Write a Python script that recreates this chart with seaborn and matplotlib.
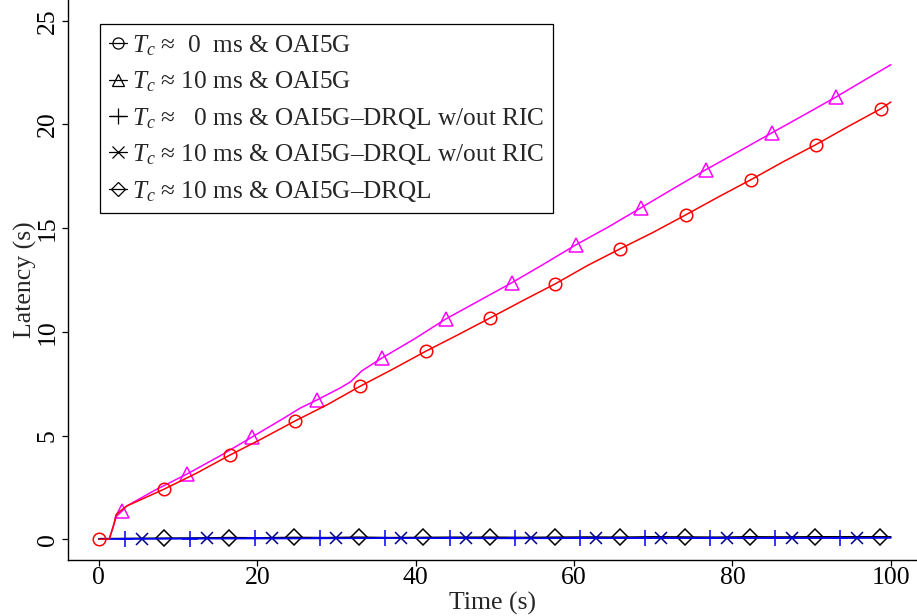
import numpy as np
import seaborn as sns
import matplotlib.pyplot as plt
from matplotlib.lines import Line2D

# Tc ~ 0 ms & OAI5G (red, circles)
red_t = [0, 1.3, 1.8, 2.2, 3.5, 8.2, 12.4, 16.5, 20.6, 24.7, 28.9, 33.0, 37.1,
         41.3, 45.3, 49.4, 53.5, 57.6, 61.7, 65.8, 70.0, 74.1, 78.2, 82.3,
         86.4, 90.5, 94.6, 98.7, 100]
red_lat = [0, 0, 0.6, 1.2, 1.6, 2.41, 3.2, 4.05, 4.85, 5.69, 6.5, 7.38, 8.2,
           9.07, 9.85, 10.67, 11.5, 12.31, 13.2, 14.0, 14.8, 15.64, 16.5, 17.33,
           18.2, 19.02, 19.9, 20.75, 21.08]
red_marks = [0, 8.2, 16.5, 24.7, 33.0, 41.3, 49.4, 57.6, 65.8, 74.1, 82.3, 90.5, 98.7]

# Tc ~ 10 ms & OAI5G (magenta, triangles)
mag_t = [1.3, 1.8, 2.2, 2.9, 3.5, 7.0, 11.1, 15.2, 19.3, 23.4, 25.4, 27.5,
         30.5, 31.8, 33.2, 35.7, 39.8, 43.8, 48.0, 52.1, 56.1, 60.2, 64.3,
         68.4, 72.5, 76.6, 80.8, 85.0, 89.0, 93.1, 96.5, 100]
mag_lat = [0, 0.6, 1.1, 1.35, 1.6, 2.35, 3.14, 4.0, 4.92, 5.85, 6.32, 6.71,
           7.3, 7.6, 8.12, 8.73, 9.65, 10.62, 11.5, 12.36, 13.25, 14.19, 15.05,
           15.97, 16.9, 17.81, 18.7, 19.6, 20.45, 21.33, 22.1, 22.88]
mag_marks = [2.9, 11.1, 19.3, 27.5, 35.7, 43.8, 52.1, 60.2, 68.4, 76.6, 85.0, 93.1]

# Tc ~ 0 ms & OAI5G-DRQL w/out RIC (blue, plus)
plus_t = [0, 3.3, 11.5, 19.7, 27.9, 36.1, 44.3, 52.5, 60.7, 68.9, 77.1, 85.4, 93.6, 100]
plus_lat = [0.02, 0.02, 0.03, 0.04, 0.04, 0.05, 0.05, 0.04, 0.05, 0.06, 0.05, 0.06, 0.06, 0.07]
plus_marks = [3.3, 11.5, 19.7, 27.9, 36.1, 44.3, 52.5, 60.7, 68.9, 77.1, 85.4, 93.6]

# Tc ~ 10 ms & OAI5G-DRQL w/out RIC (dark blue, crosses)
x_t = [0, 5.4, 13.6, 21.8, 29.9, 38.1, 46.3, 54.6, 62.8, 71.0, 79.3, 87.5, 95.7, 100]
x_lat = [0.02, 0.03, 0.04, 0.04, 0.05, 0.05, 0.06, 0.05, 0.06, 0.06, 0.07, 0.06, 0.07, 0.08]
x_marks = [5.4, 13.6, 21.8, 29.9, 38.1, 46.3, 54.6, 62.8, 71.0, 79.3, 87.5, 95.7]

# Tc ~ 10 ms & OAI5G-DRQL (black, diamonds)
d_t = [0, 4.0, 8.25, 12.0, 16.4, 20.5, 24.6, 28.7, 32.8, 36.8, 40.9, 45.0, 49.4,
       53.5, 57.6, 61.7, 65.8, 70.0, 74.0, 78.1, 82.2, 86.3, 90.4, 94.5, 98.6, 100]
d_lat = [0.03, 0.04, 0.05, 0.06, 0.08, 0.07, 0.09, 0.08, 0.1, 0.08, 0.09, 0.1, 0.1,
         0.09, 0.1, 0.11, 0.1, 0.12, 0.11, 0.1, 0.12, 0.11, 0.12, 0.12, 0.12, 0.12]
d_marks = [8.25, 16.4, 24.6, 32.8, 40.9, 49.4, 57.6, 65.8, 74.0, 82.2, 90.4, 98.6]

labels = [
    "$T_c$ \u2248  0  ms & OAI5G",
    "$T_c$ \u2248 10 ms & OAI5G",
    "$T_c$ \u2248   0 ms & OAI5G\u2013DRQL w/out RIC",
    "$T_c$ \u2248 10 ms & OAI5G\u2013DRQL w/out RIC",
    "$T_c$ \u2248 10 ms & OAI5G\u2013DRQL",
]

sns.set_style("ticks")
plt.rcParams["font.family"] = ["Liberation Serif", "DejaVu Serif"]
plt.rcParams["mathtext.fontset"] = "custom"
plt.rcParams["mathtext.rm"] = "Liberation Serif"
plt.rcParams["mathtext.it"] = "Liberation Serif:italic"

fig = plt.figure(figsize=(9.17, 6.16), dpi=100)
ax = fig.add_axes([68 / 917, 56 / 616, 849 / 917, 560 / 616])

series = [
    (d_t, d_lat, d_marks, "black", "D", 8),
    (x_t, x_lat, x_marks, "#00008B", "x", 8),
    (plus_t, plus_lat, plus_marks, "#0000FF", "+", 11),
    (mag_t, mag_lat, mag_marks, "#FF00FF", "^", 10),
    (red_t, red_lat, red_marks, "#FF0000", "o", 9),
]
for t, lat, marks, col, mk, ms in series:
    idx = list(np.nonzero(np.isin(t, marks))[0])
    sns.lineplot(x=t, y=lat, ax=ax, color=col, lw=1.1, marker=mk, ms=ms,
                 markevery=idx, mfc="none", mec=col, mew=1.1,
                 estimator=None, errorbar=None, legend=False)

ax.set_xlim(-3.9, 103.3)
ax.set_ylim(-1.0, 26.0)
ax.set_xticks([0, 20, 40, 60, 80, 100])
ax.set_yticks([0, 5, 10, 15, 20, 25])
ax.tick_params(direction="out", length=4.5, width=0.9, colors="black", labelsize=18.5)
ax.tick_params(axis="x", pad=0.5)
ax.tick_params(axis="y", pad=2)
for lab in ax.get_yticklabels():
    lab.set_rotation(90)
    lab.set_va("center")
ax.set_xlabel("Time (s)", fontsize=18.5, labelpad=2)
ax.set_ylabel("Latency (s)", fontsize=18.5, labelpad=0)
sns.despine(ax=ax)
for s in ["left", "bottom"]:
    ax.spines[s].set_color("black")
    ax.spines[s].set_linewidth(1)

handles = [
    Line2D([], [], color="black", lw=0.9, marker="o", ms=8, mfc="none", mew=0.9),
    Line2D([], [], color="black", lw=0.9, marker="^", ms=9, mfc="none", mew=0.9),
    Line2D([], [], color="black", lw=0.9, marker="+", ms=11, mew=0.9),
    Line2D([], [], color="black", lw=0.9, marker="x", ms=8, mew=0.9),
    Line2D([], [], color="black", lw=0.9, marker="D", ms=7, mfc="none", mew=0.9),
]
leg = ax.legend(handles, labels, loc="upper left", bbox_to_anchor=(0.0377, 0.957),
                borderaxespad=0, fontsize=18.2, fancybox=False, framealpha=1,
                edgecolor="black", handlelength=0.7, handletextpad=0.2,
                labelspacing=0.46, borderpad=0.36)
leg.get_frame().set_linewidth(0.9)

fig.savefig("out.png", dpi=100)
